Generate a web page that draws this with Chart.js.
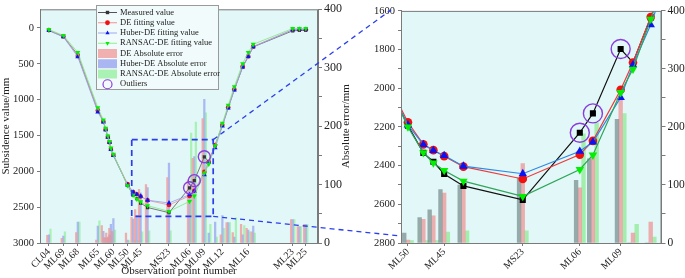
<!DOCTYPE html>
<html>
<head>
<meta charset="utf-8">
<script src="https://cdn.jsdelivr.net/npm/chart.js@4.4.1/dist/chart.umd.min.js"></script>
<style>
  body { margin: 0; background: #fff; }
  #wrap { position: relative; width: 685px; height: 278px; }
  canvas { position: absolute; top: 0; }
  #left { left: 0; }
  #right { left: 350px; }
  #ov { left: 0; pointer-events: none; }
</style>
</head>
<body>
<div id="wrap">
  <canvas id="right" width="335" height="278"></canvas>
  <canvas id="left" width="360" height="278"></canvas>
  <canvas id="ov" width="685" height="278"></canvas>
</div>
<script>
// position of each observation point along the line (arbitrary distance units)
const pos = [3.2, 8.4, 13.6, 20.8, 22.8, 23.6, 24.4, 25.0, 25.5, 26.4,
             31.5, 33.5, 34.8, 36.2, 38.7, 46.4, 53.8, 55.5, 59.1, 60.7,
             63.0, 65.6, 67.7, 69.9, 72.9, 74.9, 76.7, 90.9, 93.3, 95.6];

// subsidence values (mm)
const measured = [35, 120, 375, 1150, 1300, 1414, 1518, 1595, 1686, 1776,
                  2193, 2334, 2380, 2443, 2505, 2577, 2230, 2130, 1797, 1866,
                  1634, 1360, 1110, 860, 545, 400, 265, 40, 35, 35];
const deFit = [30, 115, 390, 1150, 1305, 1415, 1520, 1596, 1688, 1772,
               2176, 2290, 2320, 2351, 2405, 2469, 2343, 2272, 2008, 1867,
               1632, 1355, 1106, 855, 535, 394, 258, 25, 20, 20];
const huberFit = [38, 125, 403, 1172, 1312, 1420, 1525, 1600, 1695, 1780,
                  2190, 2291, 2322, 2348, 2403, 2442, 2326, 2278, 2048, 1879,
                  1672, 1370, 1118, 865, 545, 400, 262, 25, 20, 20];
const ransacFit = [22, 105, 342, 1112, 1285, 1400, 1505, 1583, 1675, 1762,
                   2200, 2333, 2386, 2425, 2480, 2559, 2420, 2345, 2022, 1901,
                   1643, 1330, 1078, 818, 498, 342, 228, 8, 8, 8];

// absolute errors (mm)
const deErr = [13, 8, 18, 5, 30, 9, 17, 10, 25, 20,
               17, 44, 57, 92, 100, 112, 108, 145, 213, 0,
               0, 14, 35, 18, 32, 25, 19, 40, 28, 32];
const huberErr = [14, 12, 36, 29, 20, 9, 9, 14, 32, 42,
                  5, 41, 47, 86, 95, 137, 95, 148, 246, 17,
                  36, 47, 35, 10, 14, 22, 29, 40, 28, 32];
const ransacErr = [24, 19, 36, 38, 9, 8, 10, 12, 19, 22,
                   4, 4, 4, 19, 21, 21, 188, 207, 223, 32,
                   10, 25, 35, 43, 30, 19, 17, 40, 28, 32];

const outlierIdx = [16, 17, 18];

const leftTickPos = [3.2, 8.4, 13.6, 20.8, 26.4, 31.5, 36.2, 46.4, 53.8, 59.1, 65.6, 74.9, 90.9, 95.6];
const leftTickLabels = ['CL04', 'ML69', 'ML68', 'ML65', 'ML60', 'ML50', 'ML45', 'MS23', 'ML06', 'ML09', 'ML12', 'ML16', 'ML23', 'ML25'];
const rightTickPos = [31.5, 36.2, 46.4, 53.8, 59.1];
const rightTickLabels = ['ML50', 'ML45', 'MS23', 'ML06', 'ML09'];

const subTicksLeft = [0, 500, 1000, 1500, 2000, 2500, 3000];
const subTicksRight = [1600, 1700, 1800, 1900, 2000, 2100, 2200, 2300, 2400, 2500, 2600, 2700, 2800];
const errTicks = [0, 50, 100, 150, 200, 250, 300, 350, 400];

// dashed zoom box on the left panel
const zoomBoxX = [33.0, 62.3];
const zoomBoxY = [1558, 2629];

Chart.defaults.font.family = "'Liberation Serif', 'Times New Roman', serif";
Chart.defaults.color = '#222';

const pts = (ys) => pos.map((x, i) => ({x: x, y: ys[i]}));

const panelBg = {
  id: 'panelBg',
  beforeDraw(chart) {
    const {ctx, chartArea: a} = chart;
    ctx.save();
    ctx.fillStyle = '#e2f7f7';
    ctx.fillRect(a.left, a.top, a.width, a.height);
    ctx.restore();
  },
  afterDraw(chart) {
    const {ctx, chartArea: a} = chart;
    ctx.save();
    ctx.strokeStyle = '#7a7a7a';
    ctx.lineWidth = 1;
    ctx.strokeRect(a.left + 0.5, a.top + 0.5, a.width - 1, a.height);
    ctx.restore();
  }
};

function makeConfig(o) {
  const lineSet = (label, ys, lineCol, ptCol, style, rot, r, ord, bw) => ({
    type: 'line', label: label, data: pts(ys), yAxisID: 'y',
    borderColor: lineCol, borderWidth: bw, backgroundColor: ptCol,
    pointBackgroundColor: ptCol, pointBorderColor: ptCol, pointBorderWidth: 0,
    pointStyle: style, pointRotation: rot, pointRadius: r,
    tension: 0, order: ord, clip: 0
  });
  const barSet = (label, ys, col) => ({
    type: 'bar', label: label, data: pts(ys), yAxisID: 'y2',
    backgroundColor: col, barThickness: o.barW, order: 10, clip: 0
  });
  const outData = outlierIdx.map(i => ({x: pos[i], y: measured[i]}));
  return {
    data: {
      datasets: [
        {type: 'line', label: 'Outliers', data: outData, yAxisID: 'y', showLine: false,
         pointStyle: 'circle', pointRadius: o.outR, pointBorderColor: '#8a3ce0',
         pointBackgroundColor: 'rgba(0,0,0,0)', pointBorderWidth: 1.4, order: 0, clip: 0},
        lineSet('RANSAC-DE fitting value', ransacFit, o.lc[3], '#00f000', 'triangle', 180, o.r + 0.6, 1, o.lw),
        lineSet('Huber-DE fitting value', huberFit, o.lc[2], '#0a14f0', 'triangle', 0, o.r + 0.6, 2, o.lw),
        lineSet('DE fitting value', deFit, o.lc[1], '#f01010', 'circle', 0, o.r, 3, o.lw),
        lineSet('Measured value', measured, o.lc[0], o.mc, 'rect', 0, o.r, 4, o.lw),
        barSet('DE Absolute error', deErr, o.bc[0]),
        barSet('Huber-DE Absolute error', huberErr, o.bc[1]),
        barSet('RANSAC-DE Absolute error', ransacErr, o.bc[2])
      ]
    },
    options: {
      responsive: false,
      animation: false,
      events: [],
      layout: {padding: {top: 5, right: o.padR, left: 0, bottom: 0}},
      plugins: {legend: {display: false}, tooltip: {enabled: false}},
      scales: {
        x: {
          type: 'linear', offset: false, min: o.xRange[0], max: o.xRange[1],
          afterBuildTicks: s => { s.ticks = o.xTicks.map(v => ({value: v})); },
          afterFit: s => { s.height = 35; },
          ticks: {autoSkip: false, minRotation: 45, maxRotation: 45, padding: 0,
                  font: {size: 10}, callback: (v, i) => o.xLabels[i]},
          grid: {offset: false, drawOnChartArea: false, tickLength: 3, color: '#7a7a7a'},
          border: {color: '#7a7a7a'},
          title: {display: o.titles, text: 'Observation point number', font: {size: 11}, padding: 0}
        },
        y: {
          position: 'left', reverse: true, min: o.yRange[0], max: o.yRange[1],
          afterBuildTicks: s => { s.ticks = o.yTicks.map(v => ({value: v})); },
          afterFit: s => { s.width = o.yW; },
          ticks: {padding: 3, font: {size: o.yFont},
                  callback: v => (v % o.yLabelStep === 0 ? String(v) : '')},
          grid: {drawOnChartArea: false, tickLength: 3, color: '#7a7a7a'},
          border: {color: '#7a7a7a'},
          title: {display: o.titles, text: 'Subsidence value/mm', font: {size: 11}, padding: 0}
        },
        y2: {
          position: 'right', min: 0, max: 400,
          afterBuildTicks: s => { s.ticks = errTicks.map(v => ({value: v})); },
          afterFit: s => { s.width = o.y2W; },
          ticks: {padding: 2, font: {size: o.y2Font},
                  callback: v => (v % 100 === 0 ? String(v) : '')},
          grid: {drawOnChartArea: false, tickLength: 4, color: '#7a7a7a'},
          border: {color: '#7a7a7a'}
        }
      }
    },
    plugins: [panelBg].concat(o.extra || [])
  };
}

const legendItems = [
  {label: 'Measured value', line: '#555', mk: 'rect', mc: '#333', rot: 0},
  {label: 'DE fitting value', line: '#f39090', mk: 'circle', mc: '#f01010', rot: 0},
  {label: 'Huber-DE fitting value', line: '#9aa8f2', mk: 'triangle', mc: '#0a14f0', rot: 0},
  {label: 'RANSAC-DE fitting value', line: '#8eef8e', mk: 'triangle', mc: '#00f000', rot: 180},
  {label: 'DE Absolute error', patch: '#f1b0b0'},
  {label: 'Huber-DE Absolute error', patch: '#aab6f2'},
  {label: 'RANSAC-DE Absolute error', patch: '#aaf2b4'},
  {label: 'Outliers', ring: '#8a3ce0'}
];

const leftExtras = {
  id: 'leftExtras',
  afterDraw(chart) {
    const ctx = chart.ctx;
    // legend
    ctx.save();
    ctx.fillStyle = '#f2fbfb';
    ctx.fillRect(96.5, 5.5, 122, 84);
    ctx.strokeStyle = '#9a9a9a';
    ctx.lineWidth = 1;
    ctx.strokeRect(96.5, 5.5, 122, 84);
    ctx.font = "8.5px 'Liberation Serif'";
    ctx.textBaseline = 'middle';
    legendItems.forEach((it, i) => {
      const y = 12.5 + i * 10.25;
      if (it.line) {
        ctx.strokeStyle = it.line;
        ctx.lineWidth = 1;
        ctx.beginPath(); ctx.moveTo(98, y); ctx.lineTo(117, y); ctx.stroke();
        ctx.fillStyle = it.mc;
        Chart.helpers.drawPoint(ctx, {pointStyle: it.mk, radius: 2.4, rotation: it.rot, borderWidth: 0}, 107.5, y);
      } else if (it.patch) {
        ctx.fillStyle = it.patch;
        ctx.fillRect(98, y - 4.5, 19, 9);
      } else {
        ctx.strokeStyle = it.ring;
        ctx.lineWidth = 1.2;
        ctx.beginPath(); ctx.arc(107.5, y, 4.5, 0, Math.PI * 2); ctx.stroke();
      }
      ctx.fillStyle = '#222';
      ctx.fillText(it.label, 120, y);
    });
    // right axis title, read from bottom to top
    ctx.translate(346, chart.chartArea.top + chart.chartArea.height / 2);
    ctx.rotate(-Math.PI / 2);
    ctx.font = "11px 'Liberation Serif'";
    ctx.textAlign = 'center';
    ctx.fillStyle = '#222';
    ctx.fillText('Absolute error/mm', 0, 0);
    ctx.restore();
  }
};

const leftChart = new Chart(document.getElementById('left'), makeConfig({
  titles: true, padR: 10,
  xRange: [0, 100], xTicks: leftTickPos, xLabels: leftTickLabels,
  yRange: [-260, 3000], yTicks: subTicksLeft, yLabelStep: 500, yW: 40, y2W: 32,
  yFont: 10.5, y2Font: 12,
  r: 2.3, outR: 6, lw: 0.8, barW: 1.6,
  lc: ['#5a5a5a', '#f39090', '#8f9ff2', '#7fe87f'], mc: '#333',
  bc: ['rgba(240,150,150,0.75)', 'rgba(150,165,240,0.75)', 'rgba(150,240,160,0.75)'],
  extra: [leftExtras]
}));

const rightChart = new Chart(document.getElementById('right'), makeConfig({
  titles: false, padR: 0,
  xRange: [30.6, 64.4], xTicks: rightTickPos, xLabels: rightTickLabels,
  yRange: [1600, 2800], yTicks: subTicksRight, yLabelStep: 200, yW: 51, y2W: 23.5,
  yFont: 10.5, y2Font: 11.5,
  r: 4.3, outR: 9.5, lw: 1.2, barW: 3.7,
  lc: ['#111', '#ee3a3a', '#2f86e6', '#2fa55a'], mc: '#000',
  bc: ['rgba(130,150,150,0.8)', 'rgba(236,160,160,0.85)', 'rgba(150,236,160,0.85)']
}));

// dashed zoom box and connector lines
const ov = document.getElementById('ov').getContext('2d');
const lx = leftChart.scales.x, ly = leftChart.scales.y;
const bx0 = lx.getPixelForValue(zoomBoxX[0]), bx1 = lx.getPixelForValue(zoomBoxX[1]);
const by0 = ly.getPixelForValue(zoomBoxY[0]), by1 = ly.getPixelForValue(zoomBoxY[1]);
const ra = rightChart.chartArea;
ov.strokeStyle = '#2a3ef0';
ov.lineWidth = 1.7;
ov.setLineDash([6, 4]);
ov.strokeRect(bx0, by0, bx1 - bx0, by1 - by0);
ov.lineWidth = 1.3;
ov.setLineDash([5, 4]);
ov.beginPath();
ov.moveTo(bx1, by0); ov.lineTo(350 + ra.left - 10, ra.top - 1);
ov.moveTo(bx1, by1); ov.lineTo(350 + ra.left, ra.bottom - 7);
ov.stroke();
</script>
</body>
</html>
